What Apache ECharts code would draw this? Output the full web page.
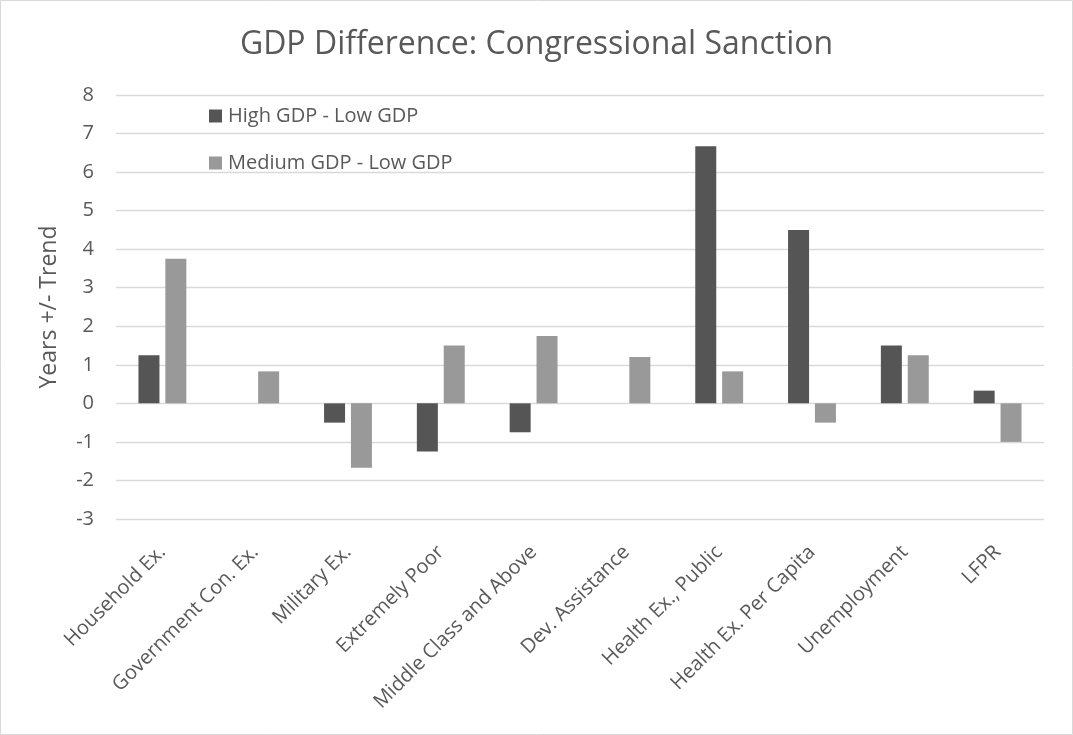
<!DOCTYPE html>
<html>
<head>
<meta charset="utf-8">
<script src="https://cdn.jsdelivr.net/npm/echarts@6/dist/echarts.min.js"></script>
<style>
  html, body { margin: 0; padding: 0; background: #ffffff; }
  #chart { width: 1073px; height: 735px; }
</style>
</head>
<body>
<div id="chart"></div>
<script>
// Categories along the x axis
const categories = [
  'Household Ex.', 'Government Con. Ex.', 'Military Ex.', 'Extremely Poor',
  'Middle Class and Above', 'Dev. Assistance', 'Health Ex., Public',
  'Health Ex. Per Capita', 'Unemployment', 'LFPR'
];

// Years +/- trend, by GDP group difference
const highMinusLow = [1.25, null, -0.5, -1.25, -0.75, null, 6.67, 4.5, 1.5, 0.33];
const mediumMinusLow = [3.75, 0.83, -1.67, 1.5, 1.75, 1.2, 0.83, -0.5, 1.25, -1.0];

const seriesNames = ['High GDP - Low GDP', 'Medium GDP - Low GDP'];

const FONT = '"Open Sans", "Noto Sans", sans-serif';
const TEXT = '#595959';

const chart = echarts.init(document.getElementById('chart'), null, { renderer: 'canvas' });

chart.setOption({
  backgroundColor: '#ffffff',
  animation: false,
  title: {
    text: 'GDP Difference: Congressional Sanction',
    left: 'center',
    top: 24,
    textStyle: { fontFamily: FONT, fontSize: 32, fontWeight: 'normal', color: TEXT }
  },
  legend: {
    orient: 'vertical',
    left: 204,
    top: 101,
    itemWidth: 13,
    itemHeight: 13,
    itemGap: 27,
    icon: 'rect',
    textStyle: { fontFamily: FONT, fontSize: 20, color: TEXT, padding: [0, 0, 0, 1] },
    data: seriesNames
  },
  grid: { left: 116, right: 29, top: 95, bottom: 216, containLabel: false },
  xAxis: {
    type: 'category',
    data: categories,
    axisLine: { show: false },
    axisTick: { show: false },
    axisLabel: {
      rotate: 45,
      interval: 0,
      margin: 30,
      fontFamily: FONT,
      fontSize: 20,
      color: TEXT
    }
  },
  yAxis: {
    type: 'value',
    min: -3,
    max: 8,
    interval: 1,
    name: 'Years +/- Trend',
    nameLocation: 'middle',
    nameGap: 55,
    nameTextStyle: { fontFamily: FONT, fontSize: 23, color: TEXT },
    axisLine: { show: false },
    axisTick: { show: false },
    axisLabel: { margin: 22, fontFamily: FONT, fontSize: 20, color: TEXT },
    splitLine: { lineStyle: { color: '#d9d9d9', width: 1.3 } }
  },
  series: [
    {
      name: seriesNames[0],
      type: 'bar',
      data: highMinusLow,
      barWidth: 21,
      barGap: '28%',
      itemStyle: { color: '#555555' }
    },
    {
      name: seriesNames[1],
      type: 'bar',
      data: mediumMinusLow,
      barWidth: 21,
      itemStyle: { color: '#999999' }
    }
  ],
  graphic: [
    {
      type: 'rect',
      shape: { x: 0.5, y: 0.5, width: 1072, height: 734 },
      style: { fill: 'none', stroke: '#d9d9d9', lineWidth: 1 },
      silent: true
    }
  ]
});
</script>
</body>
</html>
